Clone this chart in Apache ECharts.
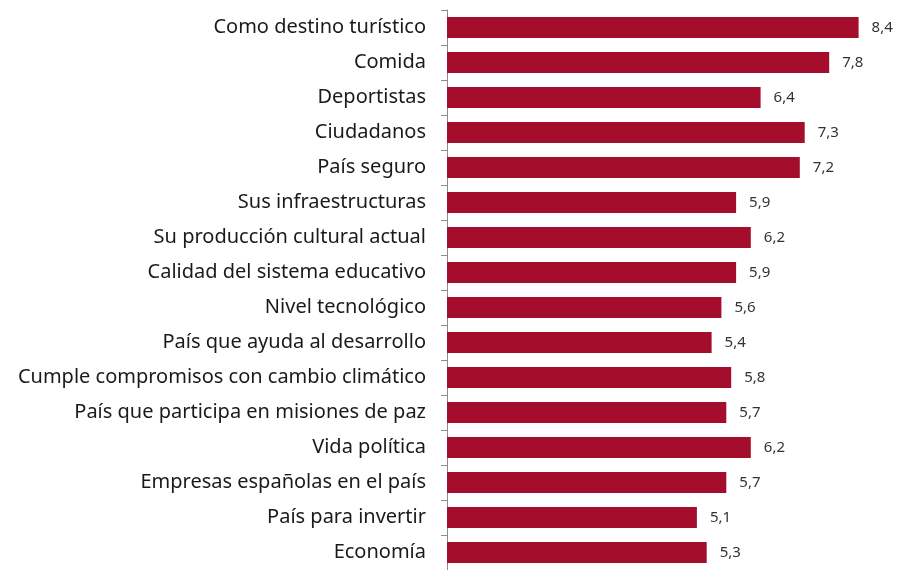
<!DOCTYPE html>
<html>
<head>
<meta charset="utf-8">
<script src="https://cdn.jsdelivr.net/npm/echarts@6/dist/echarts.min.js"></script>
<style>
  html, body { margin: 0; padding: 0; background: #fff; }
  #chart { width: 898px; height: 570px; }
</style>
</head>
<body>
<div id="chart"></div>
<script>
// categorias, de arriba a abajo
const categories = [
  'Como destino turístico',
  'Comida',
  'Deportistas',
  'Ciudadanos',
  'País seguro',
  'Sus infraestructuras',
  'Su producción cultural actual',
  'Calidad del sistema educativo',
  'Nivel tecnológico',
  'País que ayuda al desarrollo',
  'Cumple compromisos con cambio climático',
  'País que participa en misiones de paz',
  'Vida política',
  'Empresas españolas en el país',
  'País para invertir',
  'Economía'
];
const values = [8.4, 7.8, 6.4, 7.3, 7.2, 5.9, 6.2, 5.9, 5.6, 5.4, 5.8, 5.7, 6.2, 5.7, 5.1, 5.3];

const chart = echarts.init(document.getElementById('chart'), null, { renderer: 'canvas' });

const option = {
  animation: false,
  grid: {
    left: 447,
    right: 10,
    top: 10,
    height: 565,
    containLabel: false
  },
  xAxis: {
    type: 'value',
    min: 0,
    max: 9,
    show: false
  },
  yAxis: {
    type: 'category',
    data: categories,
    inverse: true,
    axisLine: { show: true, lineStyle: { color: '#8c8c8c', width: 1 } },
    axisTick: { show: true, length: 6, lineStyle: { color: '#8c8c8c' } },
    axisLabel: {
      color: '#1a1a1a',
      fontFamily: 'Noto Sans',
      fontSize: 20,
      margin: 21
    },
    splitLine: { show: false }
  },
  series: [{
    type: 'bar',
    data: values,
    barWidth: 21,
    itemStyle: { color: '#A50D2D' },
    label: {
      show: true,
      position: 'right',
      distance: 13,
      color: '#333',
      fontFamily: 'Noto Sans',
      fontSize: 15,
      formatter: function (p) {
        return p.value.toFixed(1).replace('.', ',');
      }
    }
  }]
};

chart.setOption(option);
</script>
</body>
</html>
